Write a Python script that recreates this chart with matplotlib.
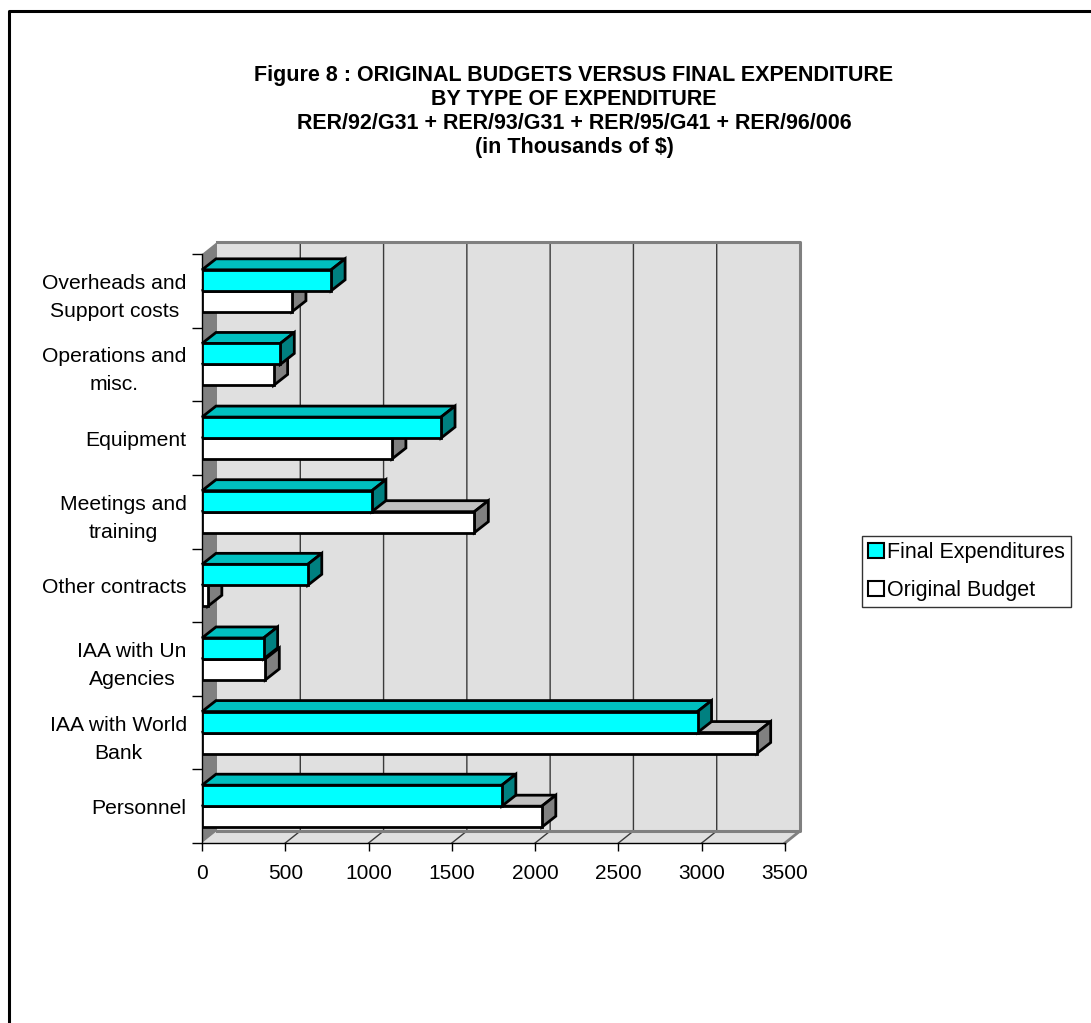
import matplotlib
matplotlib.use("Agg")
import matplotlib.pyplot as plt
from matplotlib.patches import Polygon, Patch
from matplotlib.lines import Line2D

# Figure 8 data (thousands of $), bottom row first
categories = ["Personnel", "IAA with World\nBank", "IAA with Un\nAgencies", "Other contracts",
              "Meetings and\ntraining", "Equipment", "Operations and\nmisc.",
              "Overheads and\nSupport costs"]
final_exp = [1800, 2975, 370, 635, 1020, 1435, 470, 775]
original_budget = [2040, 3330, 380, 35, 1635, 1140, 430, 540]
x_ticks = [0, 500, 1000, 1500, 2000, 2500, 3000, 3500]

title = ("Figure 8 : ORIGINAL BUDGETS VERSUS FINAL EXPENDITURE\n"
         "BY TYPE OF EXPENDITURE\n"
         "RER/92/G31 + RER/93/G31 + RER/95/G41 + RER/96/006\n"
         "(in Thousands of $)")

plt.rcParams["font.family"] = ["Liberation Sans", "DejaVu Sans"]

W, H = 1091, 1023
fig = plt.figure(figsize=(W / 100, H / 100), dpi=100)
ax = fig.add_axes([202 / W, 1 - 843 / H, 583 / W, (843 - 254) / H])

xmax = x_ticks[-1]
n = len(categories)
y0, y1 = -0.5, n - 0.5
ax.set_xlim(0, xmax)
ax.set_ylim(y0, y1)

# depth of the walls and of the bars, in data units
px_x = xmax / 583
px_y = n / (843 - 254)
WX, WY = 15 * px_x, 12 * px_y
BX, BY = 14 * px_x, 11 * px_y

wall = "#E0E0E0"
edge_gray = "#808080"

# back wall, floor, side wall
ax.add_patch(Polygon([(WX, y0 + WY), (xmax + WX, y0 + WY), (xmax + WX, y1 + WY), (WX, y1 + WY)],
                     closed=True, fc=wall, ec="none", zorder=0, clip_on=False))
ax.add_patch(Polygon([(0, y0), (xmax, y0), (xmax + WX, y0 + WY), (WX, y0 + WY)],
                     closed=True, fc=wall, ec="none", zorder=0, clip_on=False))
for x in x_ticks[1:-1]:
    ax.plot([x, x + WX, x + WX], [y0, y0 + WY, y1 + WY], color="#3a3a3a", lw=1,
            zorder=0.5, clip_on=False)
ax.plot([WX, xmax + WX, xmax + WX, WX], [y1 + WY, y1 + WY, y0 + WY, y0 + WY],
        color=edge_gray, lw=2.2, zorder=0.6, clip_on=False)
ax.plot([xmax, xmax + WX], [y0, y0 + WY], color=edge_gray, lw=2, zorder=0.6, clip_on=False)
ax.add_patch(Polygon([(0, y0), (0, y1), (WX, y1 + WY), (WX, y0 + WY)],
                     closed=True, fc=edge_gray, ec="none", zorder=0.7, clip_on=False))


def bar3d(y, h, v, front, top, side, z):
    ax.barh(y, v, height=h, color=front, edgecolor="black", linewidth=2, zorder=z)
    t = y + h / 2
    b = y - h / 2
    ax.add_patch(Polygon([(0, t), (v, t), (v + BX, t + BY), (BX, t + BY)], closed=True,
                         fc=top, ec="black", lw=2, zorder=z - 0.1, joinstyle="miter",
                         clip_on=False))
    ax.add_patch(Polygon([(v, b), (v, t), (v + BX, t + BY), (v + BX, b + BY)], closed=True,
                         fc=side, ec="black", lw=2, zorder=z - 0.1, joinstyle="miter",
                         clip_on=False))


bh = 0.285
for i in range(n):
    bar3d(i - bh / 2, bh, original_budget[i], "white", "#C0C0C0", "#808080", 3)
    bar3d(i + bh / 2, bh, final_exp[i], "#00FFFF", "#00C0C0", "#008080", 4)

for s in ["top", "right"]:
    ax.spines[s].set_visible(False)
ax.spines["left"].set_linewidth(1)
ax.spines["bottom"].set_linewidth(1)

ax.set_xticks(x_ticks)
ax.set_xticklabels([str(v) for v in x_ticks])
ax.tick_params(axis="x", length=6, width=1, pad=9, labelsize=15)
ax.set_yticks(range(n))
ax.set_yticklabels(categories, multialignment="center", linespacing=1.6)
ax.tick_params(axis="y", which="major", length=0, pad=11, labelsize=15.2)
ax.set_yticks([y0 + k for k in range(n + 1)], minor=True)
ax.tick_params(axis="y", which="minor", length=7, width=1)

fig.text(574 / W, 1 - 65 / H, title, ha="center", va="top", fontsize=15.5,
         fontweight="bold", linespacing=1.18)

leg = fig.legend(handles=[Patch(fc="#00FFFF", ec="black", lw=1.5),
                          Patch(fc="white", ec="black", lw=1.5)],
                 labels=["Final Expenditures", "Original Budget"],
                 loc="upper left", bbox_to_anchor=(862 / W, 1 - 536 / H),
                 fontsize=15.5, frameon=True, fancybox=False, edgecolor="black",
                 handlelength=0.7, handleheight=0.7, handletextpad=0.15,
                 borderpad=0.3, labelspacing=0.75, borderaxespad=0)
leg.get_frame().set_linewidth(1)

# page frame, left and top edges
fig.add_artist(Line2D([9 / W, 9 / W, 1], [0, 1 - 11 / H, 1 - 11 / H], color="black",
                      lw=2.2, transform=fig.transFigure))

fig.savefig("out.png", dpi=100)
